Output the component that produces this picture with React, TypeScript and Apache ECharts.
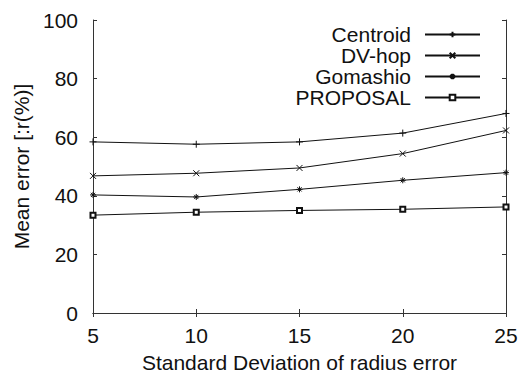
import React, { useEffect, useRef } from "react";
import * as echarts from "echarts";

const xValues = [5, 10, 15, 20, 25];
const centroid = [58.4, 57.6, 58.4, 61.4, 68.1];
const dvHop = [46.8, 47.7, 49.5, 54.4, 62.3];
const gomashio = [40.3, 39.6, 42.2, 45.3, 47.9];
const proposal = [33.4, 34.4, 35.0, 35.4, 36.2];
const seriesNames = ["Centroid", "DV-hop", "Gomashio", "PROPOSAL"];

const FONT = "'Liberation Sans', Arial, Helvetica, sans-serif";
const INK = "#111";

const symbols = [
  "path://M0,5L10,5M5,0L5,10",
  "path://M0,0L10,10M10,0L0,10",
  "path://M0,5L10,5M5,0L5,10M1.5,1.5L8.5,8.5M8.5,1.5L1.5,8.5",
  "emptyRect",
];
const symbolSizes = [7, 6, 6, 5];

export default function App() {
  const ref = useRef<HTMLDivElement>(null);
  useEffect(() => {
    if (!ref.current) return;
    const chart = echarts.init(ref.current, null, { renderer: "svg" });
    const all = [centroid, dvHop, gomashio, proposal];
    const axisCommon = {
      type: "value" as const,
      axisLine: { show: true, lineStyle: { color: "#333", width: 1 } },
      axisTick: { show: true, inside: true, length: 4, lineStyle: { color: "#333" } },
      splitLine: { show: false },
    };
    chart.setOption({
      animation: false,
      backgroundColor: "#fff",
      textStyle: { fontFamily: FONT },
      grid: { left: 93, right: 12, top: 20, bottom: 58, containLabel: false, outerBoundsMode: "none" },
      legend: {
        data: seriesNames,
        orient: "vertical",
        align: "right",
        right: 37,
        top: 24,
        padding: 0,
        itemGap: 0,
        itemWidth: 55,
        itemHeight: 7,
        textStyle: {
          fontFamily: FONT,
          fontSize: 21,
          color: INK,
          lineHeight: 21,
          padding: [0, 9, 0, 0],
        },
      },
      xAxis: [
        {
          ...axisCommon,
          position: "bottom",
          min: 5,
          max: 25,
          interval: 5,
          name: "Standard Deviation of radius error",
          nameLocation: "middle",
          nameGap: 39,
          nameTextStyle: { fontFamily: FONT, fontSize: 21, color: INK },
          axisLabel: { fontFamily: FONT, fontSize: 21, color: INK, margin: 12 },
        },
        {
          ...axisCommon,
          position: "top",
          min: 5,
          max: 25,
          interval: 5,
          axisLabel: { show: false },
        },
      ],
      yAxis: [
        {
          ...axisCommon,
          position: "left",
          min: 0,
          max: 100,
          interval: 20,
          name: "Mean error [:r(%)]",
          nameLocation: "middle",
          nameGap: 60,
          nameTextStyle: { fontFamily: FONT, fontSize: 21, color: INK },
          axisLabel: { fontFamily: FONT, fontSize: 21, color: INK, margin: 15 },
        },
        {
          ...axisCommon,
          position: "right",
          min: 0,
          max: 100,
          interval: 20,
          axisLabel: { show: false },
        },
      ],
      series: seriesNames.map((name, i) => ({
        name,
        type: "line",
        xAxisIndex: 0,
        yAxisIndex: 0,
        data: xValues.map((x, j) => [x, all[i][j]]),
        symbol: symbols[i],
        symbolSize: symbolSizes[i],
        showAllSymbol: true,
        clip: false,
        lineStyle: { color: INK, width: 1 },
        itemStyle: { color: INK, borderColor: INK, borderWidth: 1 },
        emphasis: { disabled: true },
      })),
    });
    return () => chart.dispose();
  }, []);
  return <div ref={ref} style={{ width: 518, height: 371, position: "absolute", left: 0, top: 0 }} />;
}
